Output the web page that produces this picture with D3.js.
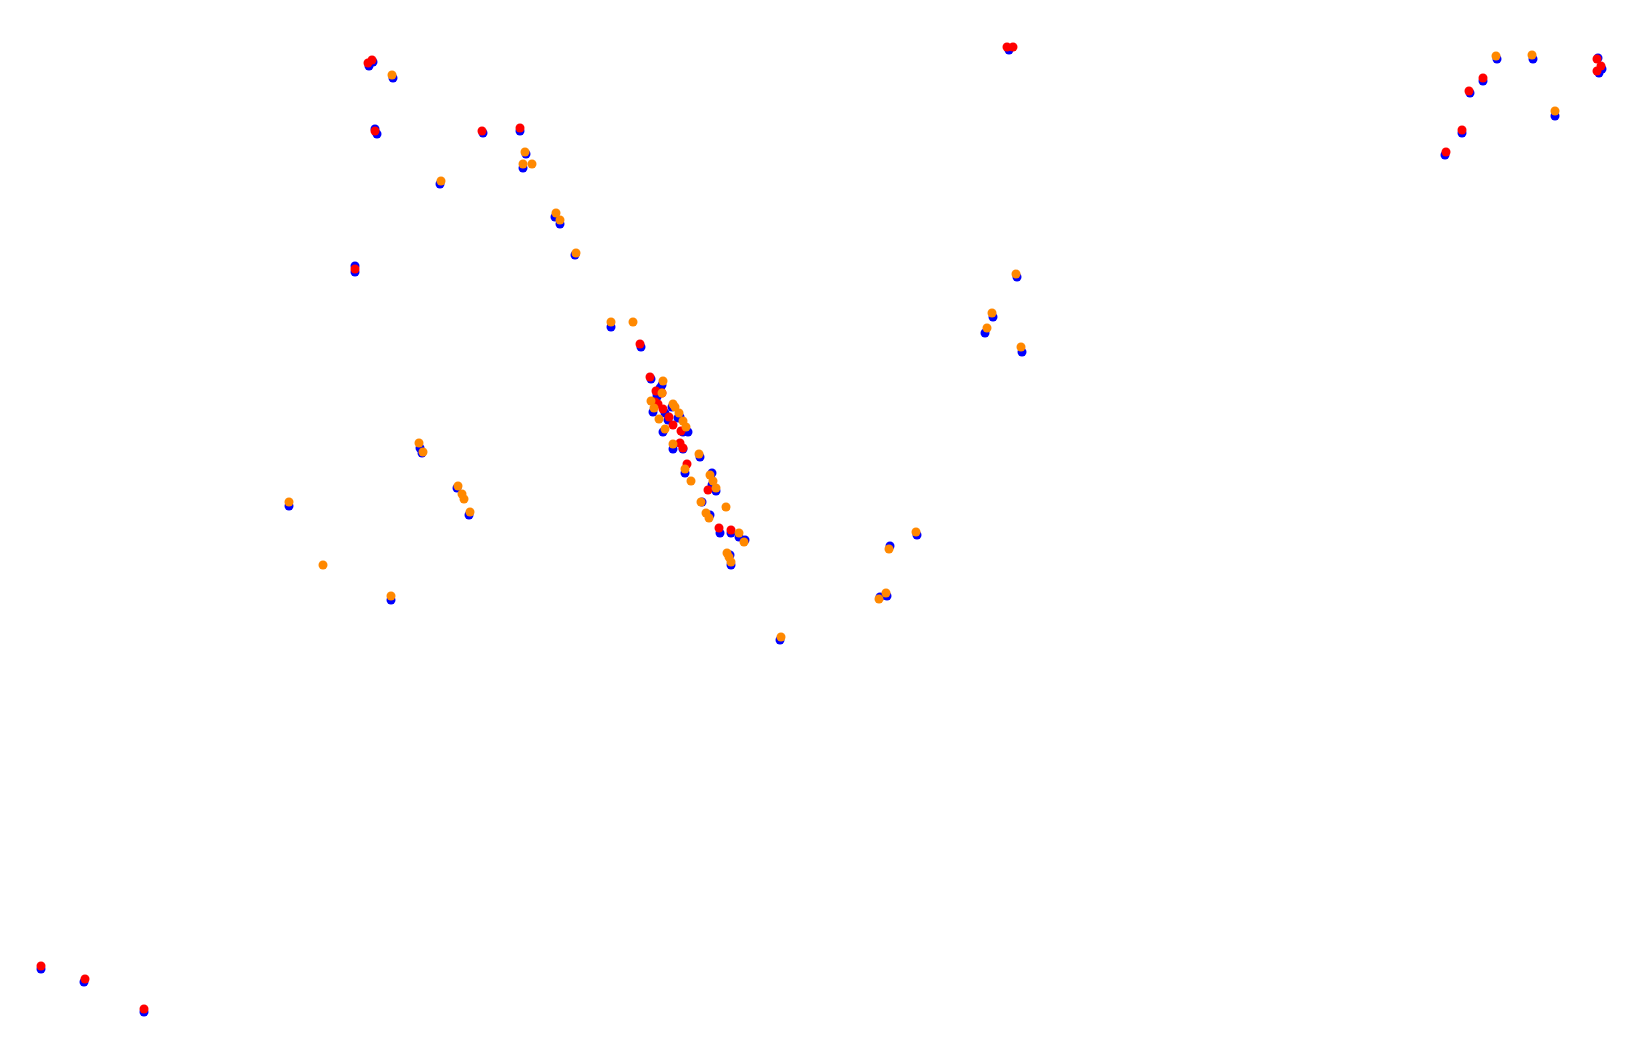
<!DOCTYPE html>
<html>
<head>
<meta charset="utf-8">
<script src="https://cdn.jsdelivr.net/npm/d3@7"></script>
<style>
html,body{margin:0;padding:0;background:#fff;}
svg{display:block;}
</style>
</head>
<body>
<script>
// Track positions (x, y) for three series
const blueSeries = [
  [369,66],[373,62],[393,78],[375,129],[377,134],[483,133],[520,131],[526,154],[523,168],[440,184],[355,266],[355,272],
  [555,217],[560,224],[575,255],[611,327],[641,347],[651,379],[662,385],[657,394],[660,388],[653,412],[665,413],[657,397],
  [672,407],[680,417],[678,418],[668,420],[663,432],[683,432],[688,432],[673,449],[683,449],[700,457],[685,473],[712,473],
  [712,485],[716,491],[702,502],[710,515],[720,533],[731,533],[739,537],[745,540],[730,555],[731,565],
  [420,448],[422,453],[457,488],[469,515],[289,506],[391,600],
  [917,535],[890,546],[887,596],[880,597],[780,640],
  [1017,277],[993,317],[985,333],[1022,352],
  [1009,50],
  [1497,59],[1533,59],[1598,58],[1602,69],[1599,73],[1483,81],[1470,93],[1555,116],[1462,133],[1445,155],
  [41,969],[84,982],[144,1012]
];
const redSeries = [
  [368,63],[372,60],[375,131],[355,269],[482,131],[520,128],[640,344],[650,377],[656,391],[662,393],[655,402],[658,404],
  [663,409],[669,417],[673,425],[681,431],[680,443],[683,448],[687,464],[708,490],[719,528],[731,530],
  [1007,47],[1013,47],
  [1597,59],[1601,66],[1597,71],[1483,78],[1469,91],[1462,130],[1446,152],
  [41,966],[85,979],[144,1009]
];
const orangeSeries = [
  [392,75],[525,152],[523,164],[532,164],[441,181],
  [556,213],[560,220],[576,253],[611,322],[633,322],[663,381],[662,393],[651,401],[654,408],[673,404],[675,407],
  [679,413],[659,419],[683,421],[686,427],[665,429],[673,444],[699,454],[685,469],[691,481],[710,475],[713,481],
  [716,488],[701,502],[726,507],[706,513],[709,518],[739,533],[744,542],[727,553],[729,557],[731,562],
  [419,443],[423,452],[458,486],[462,494],[464,499],[470,512],[289,502],[323,565],[391,596],
  [916,532],[889,549],[886,593],[879,599],[781,637],
  [1016,274],[992,313],[987,328],[1021,347],
  [1496,56],[1532,55],[1555,111]
];
const seriesList = [
  {name: "blue", color: "#0000ff", data: blueSeries},
  {name: "red", color: "#ff0000", data: redSeries},
  {name: "orange", color: "#ff8800", data: orangeSeries}
];

const W = 1636, H = 1048;
const x = d3.scaleLinear().domain([0, 1636]).range([0, W]);
const y = d3.scaleLinear().domain([0, 1048]).range([0, H]);

const svg = d3.select("body").append("svg").attr("width", W).attr("height", H);

seriesList.forEach(s => {
  svg.append("g").attr("class", s.name)
    .selectAll("circle").data(s.data).join("circle")
    .attr("cx", d => x(d[0]))
    .attr("cy", d => y(d[1]))
    .attr("r", 4.5)
    .attr("fill", s.color);
});
</script>
</body>
</html>
